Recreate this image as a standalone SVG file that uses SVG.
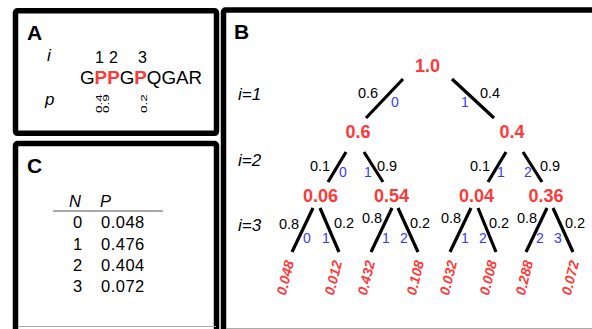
<svg xmlns="http://www.w3.org/2000/svg" width="592" height="329" viewBox="0 0 592 329">
<style>
text{font-family:"Liberation Sans",Arial,sans-serif;}
.panel{fill:none;stroke:#000;stroke-width:5.5;}
.lbl{font-size:21px;font-weight:bold;fill:#000;}
.it{font-style:italic;fill:#000;}
.node{font-size:18px;font-weight:bold;fill:#ff3838;text-anchor:middle;}
.pr{font-size:14.5px;fill:#000;}
.bl{font-size:14px;fill:#3a3aff;}
.leaf{font-size:14px;font-weight:bold;font-style:italic;fill:#ff3838;text-anchor:middle;}
.tab{font-size:16.5px;fill:#000;}
.rot{font-size:13.5px;fill:#000;}
.edge{stroke:#000;stroke-width:3.2;}
.gray{stroke:#aaa;stroke-width:1;}
</style>
<rect width="592" height="329" fill="#fff"/>

<g id="panelA">
<rect class="panel" x="15.5" y="10.8" width="201" height="122.5" rx="2"/>
<text class="lbl" x="27" y="40">A</text>
<text class="it" x="47" y="61" font-size="17">i</text>
<text x="95" y="63" font-size="16">1</text>
<text x="109" y="63" font-size="16">2</text>
<text x="138" y="63" font-size="16">3</text>
<text x="80" y="84" font-size="18.8">G<tspan fill="#ff3838" font-weight="bold">PP</tspan>G<tspan fill="#ff3838" font-weight="bold">P</tspan>QGAR</text>
<text class="it" x="45" y="105" font-size="17">p</text>
<text class="rot" transform="translate(101.5,113) rotate(-90) scale(1,0.68)">0.4</text>
<text class="rot" transform="translate(108.8,113) rotate(-90) scale(1,0.68)">0.9</text>
<text class="rot" transform="translate(146.5,113) rotate(-90) scale(1,0.68)">0.2</text>
</g>

<g id="panelC">
<rect class="panel" x="15.5" y="143.5" width="201" height="200" rx="2"/>
<line class="gray" x1="18" y1="326.5" x2="216" y2="326.5"/>
<text class="lbl" x="27" y="173">C</text>
<text class="it tab" x="69" y="207">N</text>
<text class="it tab" x="100" y="207">P</text>
<line x1="53" y1="211" x2="163" y2="211" stroke="#555" stroke-width="1.2"/>
<text class="tab" x="73" y="228">0</text><text class="tab" x="101" y="228" letter-spacing="0.5">0.048</text>
<text class="tab" x="73" y="250">1</text><text class="tab" x="101" y="250" letter-spacing="0.5">0.476</text>
<text class="tab" x="73" y="271">2</text><text class="tab" x="101" y="271" letter-spacing="0.5">0.404</text>
<text class="tab" x="73" y="292">3</text><text class="tab" x="101" y="292" letter-spacing="0.5">0.072</text>
</g>

<g id="panelB">
<rect class="panel" x="223.5" y="10" width="380" height="340" rx="2"/>
<line class="gray" x1="226" y1="328.5" x2="592" y2="328.5"/>
<text class="lbl" x="234" y="39">B</text>
<text class="it" x="238" y="100" font-size="17">i=1</text>
<text class="it" x="238" y="166" font-size="17">i=2</text>
<text class="it" x="238" y="231" font-size="17">i=3</text>
</g>

<g id="connectors">
<line class="edge" x1="403" y1="79" x2="366" y2="118"/>
<line class="edge" x1="452" y1="79" x2="494" y2="118"/>
<line class="edge" x1="346" y1="152" x2="328" y2="182"/>
<line class="edge" x1="364" y1="152" x2="383" y2="182"/>
<line class="edge" x1="506" y1="152" x2="488" y2="182"/>
<line class="edge" x1="523" y1="152" x2="542" y2="182"/>
<line class="edge" x1="313" y1="208" x2="292" y2="252"/>
<line class="edge" x1="320" y1="208" x2="339" y2="252"/>
<line class="edge" x1="392" y1="208" x2="371" y2="252"/>
<line class="edge" x1="398" y1="208" x2="418" y2="252"/>
<line class="edge" x1="471" y1="208" x2="450" y2="252"/>
<line class="edge" x1="478" y1="208" x2="496" y2="252"/>
<line class="edge" x1="547" y1="208" x2="526" y2="252"/>
<line class="edge" x1="553" y1="208" x2="573" y2="252"/>
</g>

<g id="edge-labels">
<text class="pr" x="358" y="98">0.6</text><text class="bl" x="391" y="107">0</text>
<text class="bl" x="461" y="107">1</text><text class="pr" x="480" y="98">0.4</text>
<text class="pr" x="310" y="171">0.1</text><text class="bl" x="339" y="177">0</text>
<text class="bl" x="364" y="177">1</text><text class="pr" x="377" y="171">0.9</text>
<text class="pr" x="470" y="171">0.1</text><text class="bl" x="497" y="177">1</text>
<text class="bl" x="524" y="177">2</text><text class="pr" x="540" y="171">0.9</text>
<text class="pr" x="279" y="229">0.8</text><text class="bl" x="303" y="243">0</text>
<text class="bl" x="322" y="243">1</text><text class="pr" x="334" y="228">0.2</text>
<text class="pr" x="362" y="223">0.8</text><text class="bl" x="382" y="243">1</text>
<text class="bl" x="400" y="243">2</text><text class="pr" x="410" y="228">0.2</text>
<text class="pr" x="441" y="223">0.8</text><text class="bl" x="461" y="243">1</text>
<text class="bl" x="479" y="243">2</text><text class="pr" x="489" y="228">0.2</text>
<text class="pr" x="517" y="223">0.8</text><text class="bl" x="536" y="243">2</text>
<text class="bl" x="554" y="243">3</text><text class="pr" x="565" y="228">0.2</text>
</g>

<g id="n-root"><text class="node" x="427.5" y="72">1.0</text></g>
<g id="n-06"><text class="node" x="358" y="138">0.6</text></g>
<g id="n-04"><text class="node" x="512" y="138">0.4</text></g>
<g id="n-006"><text class="node" x="320.5" y="202">0.06</text></g>
<g id="n-054"><text class="node" x="391.5" y="202">0.54</text></g>
<g id="n-004"><text class="node" x="476.5" y="202">0.04</text></g>
<g id="n-036"><text class="node" x="546" y="202">0.36</text></g>
<g id="l1"><text class="leaf" transform="translate(290,279) rotate(-76)">0.048</text></g>
<g id="l2"><text class="leaf" transform="translate(338,279) rotate(-76)">0.012</text></g>
<g id="l3"><text class="leaf" transform="translate(371,279) rotate(-76)">0.432</text></g>
<g id="l4"><text class="leaf" transform="translate(420,279) rotate(-76)">0.108</text></g>
<g id="l5"><text class="leaf" transform="translate(453,279) rotate(-76)">0.032</text></g>
<g id="l6"><text class="leaf" transform="translate(493,279) rotate(-76)">0.008</text></g>
<g id="l7"><text class="leaf" transform="translate(529,279) rotate(-76)">0.288</text></g>
<g id="l8"><text class="leaf" transform="translate(575,279) rotate(-76)">0.072</text></g>
</svg>
